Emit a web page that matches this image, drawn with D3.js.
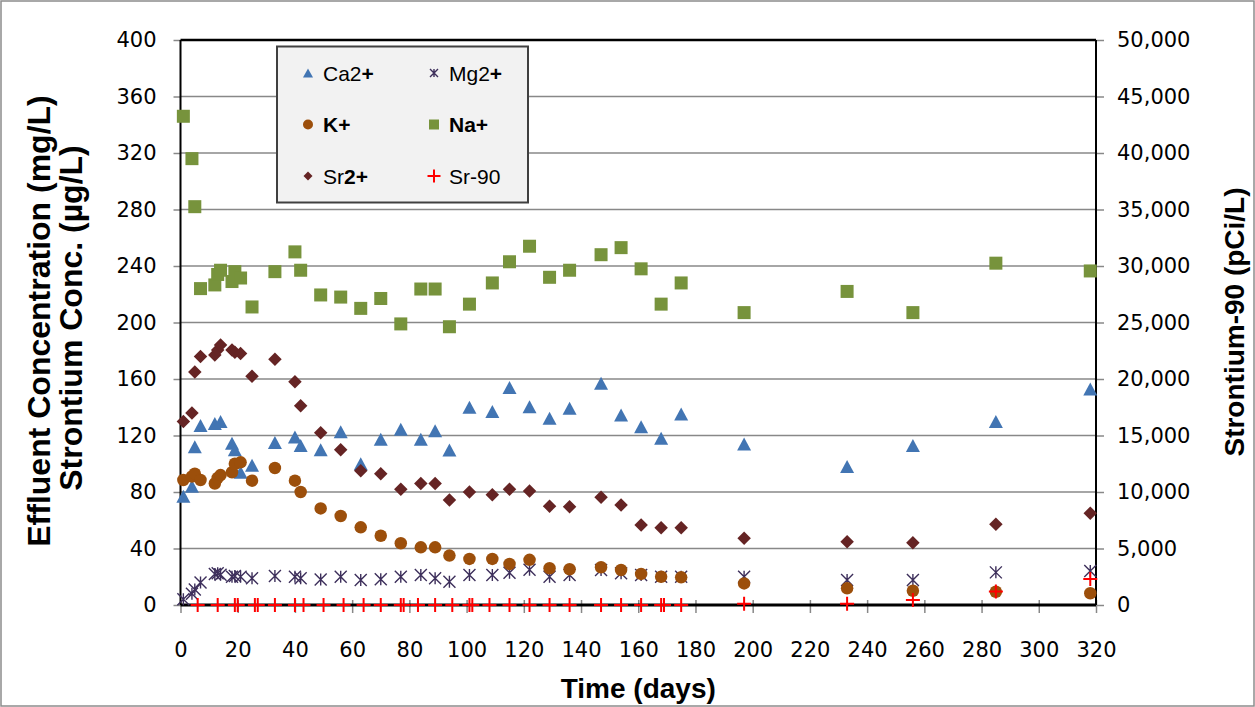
<!DOCTYPE html>
<html>
<head>
<meta charset="utf-8">
<script src="https://cdn.jsdelivr.net/npm/d3@7"></script>
<style>
    body { margin: 0; background: #fff; }
    .tick text { font-family: "DejaVu Sans", sans-serif; font-size: 21px; fill: #000; }
    .title { font-family: "Liberation Sans", Arial, sans-serif; font-weight: bold; font-size: 28px; }
    .ytitle { font-size: 32px; }
    .legend text { font-family: "Liberation Sans", Arial, sans-serif; font-size: 21px; }
</style>
</head>
<body>
<div class="chart_frame"></div>
<script>
// sampling days shared by the ion series
var days = [1, 4, 5, 7, 12, 13, 14, 18, 19, 21, 25, 33, 40, 42, 49, 56, 63, 70, 77, 84, 89, 94,
            101, 109, 115, 122, 129, 136, 147, 154, 161, 168, 175, 197, 233, 256, 285, 318];

var ca = [77, 84, 112, 127, 128.5, null, 130, 114.5, 110, 94, 99, 115, 119, 113, 110, 122.7, 100, 117.3, 124.4, 117.3, 123.4, 109.7,
          140, 137, 154, 140.4, 132.2, 139.3, 157, 134.5, 126.2, 118, 135.2, 114, 98, 113, 130, 153];
var mg = [4, 8, 11, 16, 22, 22.5, 21.5, 20, 20.5, 20, 19, 20.5, 20, 19, 18, 20, 17.7, 18.2, 20, 21.2, 18.9, 16.5,
          21.2, 21.2, 22.9, 25, 20, 21.2, 24.8, 22.4, 21.2, 20, 20, 20, 17.7, 17.7, 23.1, 24];
var k  = [88.5, 91, 93, 88.5, 86, 90, 92, 94, 100, 101, 88, 97, 88, 80, 68.4, 63, 55, 49, 43.7, 40.8, 40.8, 35,
          32.6, 32.6, 29, 32, 26, 25.3, 26.7, 24.8, 22, 20, 19.6, 15.3, 11.8, 10.1, 9.4, 8.3];
var na = [346, 316, 282, 224, 226.6, 234, 237, 229, 236, 231.5, 211, 236, 250, 237, 219.5, 218, 210, 217, 199, 223.7, 223.7, 197,
          213, 228, 243, 254, 232, 237, 248, 253, 238, 213, 228, 207, 222, 207, 242, 236.5];
var sr = [130, 136, 165, 176, 177, 180.5, 184, 180.5, 179, 178, 162, 174, 158, 141, 122, 110, 95, 93, 82, 86, 86, 74.3,
          80, 78, 82, 80.7, 70, 69.6, 76.2, 70.8, 56.6, 54.7, 54.7, 47.2, 44.8, 44.1, 57.1, 65];

// Sr-90 on the secondary axis (pCi/L)
var sr90Days = [6, 13, 19, 20, 26, 27, 33, 40, 43, 50, 57, 64, 70, 77, 78, 83, 89, 95, 101, 102, 108, 115,
                122, 129, 136, 147, 154, 161, 168, 169, 175, 197, 233, 256, 285, 318];
var sr90 = [0, 0, 0, 0, 0, 0, 0, 0, 0, 0, 0, 0, 0, 0, 0, 0, 0, 0, 0, 0, 0, 0,
            0, 0, 0, 0, 0, 0, 0, 0, 0, 100, 100, 450, 1200, 2300];

var xTicks = [0, 20, 40, 60, 80, 100, 120, 140, 160, 180, 200, 220, 240, 260, 280, 300, 320];
var leftTicks = [0, 40, 80, 120, 160, 200, 240, 280, 320, 360, 400];
var rightTicks = [0, 5000, 10000, 15000, 20000, 25000, 30000, 35000, 40000, 45000, 50000];

var legendRows = [
    {'name': 'Ca2+', 'parts': [['Ca2', 'normal'], ['+', 'bold']], 'type': 'triangle', 'color': '#4275b3'},
    {'name': 'Mg2+', 'parts': [['Mg2', 'normal'], ['+', 'bold']], 'type': 'star', 'color': '#3d2f5b'},
    {'name': 'K+', 'parts': [['K+', 'bold']], 'type': 'circle', 'color': '#9c4f0b'},
    {'name': 'Na+', 'parts': [['Na+', 'bold']], 'type': 'square', 'color': '#77933c'},
    {'name': 'Sr2+', 'parts': [['Sr', 'normal'], ['2+', 'bold']], 'type': 'diamond', 'color': '#652424'},
    {'name': 'Sr-90', 'parts': [['Sr-90', 'normal']], 'type': 'plus', 'color': '#ff0000'}
];

var width = 1255, height = 707;
var plot = {'left': 180.5, 'right': 1096, 'top': 40, 'bottom': 605};

var x = d3.scaleLinear().domain([0, 320]).range([plot.left, plot.right]),
    y = d3.scaleLinear().domain([0, 400]).range([plot.bottom, plot.top]),
    y2 = d3.scaleLinear().domain([0, 50000]).range([plot.bottom, plot.top]);

var svg = d3.select('.chart_frame').append('svg')
    .attr('width', width)
    .attr('height', height);

svg.append('rect')
    .attr('x', 1).attr('y', 1)
    .attr('width', width - 2).attr('height', height - 2)
    .attr('fill', '#fff').attr('stroke', '#8c8c8c').attr('stroke-width', 1.5);

// gridlines
svg.append('g').selectAll('line')
    .data(leftTicks.slice(1, -1))
    .enter().append('line')
    .attr('x1', plot.left).attr('x2', plot.right)
    .attr('y1', function(d) { return y(d); }).attr('y2', function(d) { return y(d); })
    .attr('stroke', '#888').attr('stroke-width', 1.5);

// axes
var leftAxis = svg.append('g')
    .attr('transform', 'translate(' + plot.left + ',0)')
    .call(d3.axisLeft(y).tickValues(leftTicks).tickSize(7).tickPadding(17));
var rightAxis = svg.append('g')
    .attr('transform', 'translate(' + plot.right + ',0)')
    .call(d3.axisRight(y2).tickValues(rightTicks).tickFormat(d3.format(',')).tickSize(8).tickPadding(13));
var bottomAxis = svg.append('g')
    .attr('transform', 'translate(0,' + plot.bottom + ')')
    .call(d3.axisBottom(x).tickValues(xTicks).tickSize(8).tickPadding(29));

[leftAxis, rightAxis, bottomAxis].forEach(function(a) {
    a.select('.domain').remove();
    a.selectAll('.tick line').attr('stroke', '#888').attr('stroke-width', 1.5);
    a.selectAll('.tick text').attr('font-family', null).attr('font-size', null);
});
bottomAxis.selectAll('.tick line').attr('y1', -5);

// plot frame
svg.append('line').attr('x1', plot.left).attr('x2', plot.right).attr('y1', plot.top).attr('y2', plot.top)
    .attr('stroke', '#000').attr('stroke-width', 2.5);
svg.append('line').attr('x1', plot.left).attr('x2', plot.left).attr('y1', plot.top).attr('y2', plot.bottom)
    .attr('stroke', '#000').attr('stroke-width', 2);
svg.append('line').attr('x1', plot.right).attr('x2', plot.right).attr('y1', plot.top).attr('y2', plot.bottom)
    .attr('stroke', '#000').attr('stroke-width', 2);
svg.append('line').attr('x1', plot.left).attr('x2', plot.right).attr('y1', plot.bottom).attr('y2', plot.bottom)
    .attr('stroke', '#000').attr('stroke-width', 3);

function draw_marker(g, type, s, color) {
    var h = s / 2;
    if (type == 'triangle') {
        g.append('path').attr('d', 'M0,' + (-h) + 'L' + (h + 0.5) + ',' + h + 'L' + (-h - 0.5) + ',' + h + 'Z').attr('fill', color);
    } else if (type == 'square') {
        g.append('rect').attr('x', -h).attr('y', -h).attr('width', s).attr('height', s).attr('fill', color);
    } else if (type == 'circle') {
        g.append('circle').attr('r', h).attr('fill', color);
    } else if (type == 'diamond') {
        g.append('path').attr('d', 'M0,' + (-h) + 'L' + h + ',0L0,' + h + 'L' + (-h) + ',0Z').attr('fill', color);
    } else if (type == 'star') {
        g.append('path').attr('d', 'M' + (-h) + ',' + (-h) + 'L' + h + ',' + h + 'M' + (-h) + ',' + h + 'L' + h + ',' + (-h) +
            'M0,' + (-h) + 'L0,' + h)
            .attr('stroke', color).attr('stroke-width', 1.4).attr('fill', 'none');
    } else if (type == 'plus') {
        g.append('path').attr('d', 'M' + (-h) + ',0L' + h + ',0M0,' + (-h) + 'L0,' + h)
            .attr('stroke', color).attr('stroke-width', 2).attr('fill', 'none');
    }
}

function plot_series(xs, vs, scale, type, s, color) {
    var g = svg.append('g');
    xs.forEach(function(d, i) {
        if (vs[i] === null) return;
        var m = g.append('g').attr('transform', 'translate(' + x(d) + ',' + scale(vs[i]) + ')');
        draw_marker(m, type, s, color);
    });
}

plot_series(days, ca, y, 'triangle', 13, '#4275b3');
plot_series(days, mg, y, 'star', 12, '#3d2f5b');
plot_series(days, k, y, 'circle', 12.5, '#9c4f0b');
plot_series(days, na, y, 'square', 13, '#77933c');
plot_series(days, sr, y, 'diamond', 13.5, '#652424');
plot_series(sr90Days, sr90, y2, 'plus', 14, '#ff0000');

// legend
var legend = svg.append('g').attr('class', 'legend');
legend.append('rect')
    .attr('x', 277).attr('y', 46.5).attr('width', 251).attr('height', 156)
    .attr('fill', '#f2f2f2').attr('stroke', '#404040').attr('stroke-width', 2);
var legendSizes = {'triangle': 9, 'star': 8, 'circle': 10, 'square': 10, 'diamond': 9, 'plus': 13};
legendRows.forEach(function(r, i) {
    var col = i % 2, row = Math.floor(i / 2);
    var lx = 308 + col * 126, ly = 73 + row * 51.5;
    var m = legend.append('g').attr('transform', 'translate(' + lx + ',' + ly + ')');
    draw_marker(m, r.type, legendSizes[r.type], r.color);
    var t = legend.append('text').attr('x', lx + 15).attr('y', ly + 7.5);
    r.parts.forEach(function(p) {
        t.append('tspan').attr('font-weight', p[1]).text(p[0]);
    });
});

// titles
svg.append('text').attr('class', 'title ytitle')
    .attr('transform', 'translate(50,321) rotate(-90)')
    .attr('text-anchor', 'middle')
    .text('Effluent Concentration (mg/L)');
svg.append('text').attr('class', 'title ytitle')
    .attr('transform', 'translate(82,318) rotate(-90)')
    .attr('text-anchor', 'middle')
    .text('Strontium Conc. (µg/L)');
svg.append('text').attr('class', 'title')
    .attr('transform', 'translate(1244,322) rotate(-90)')
    .attr('text-anchor', 'middle')
    .text('Strontium-90 (pCi/L)');
svg.append('text').attr('class', 'title')
    .attr('x', (plot.left + plot.right) / 2).attr('y', 698)
    .attr('text-anchor', 'middle')
    .text('Time (days)');
</script>
</body>
</html>
